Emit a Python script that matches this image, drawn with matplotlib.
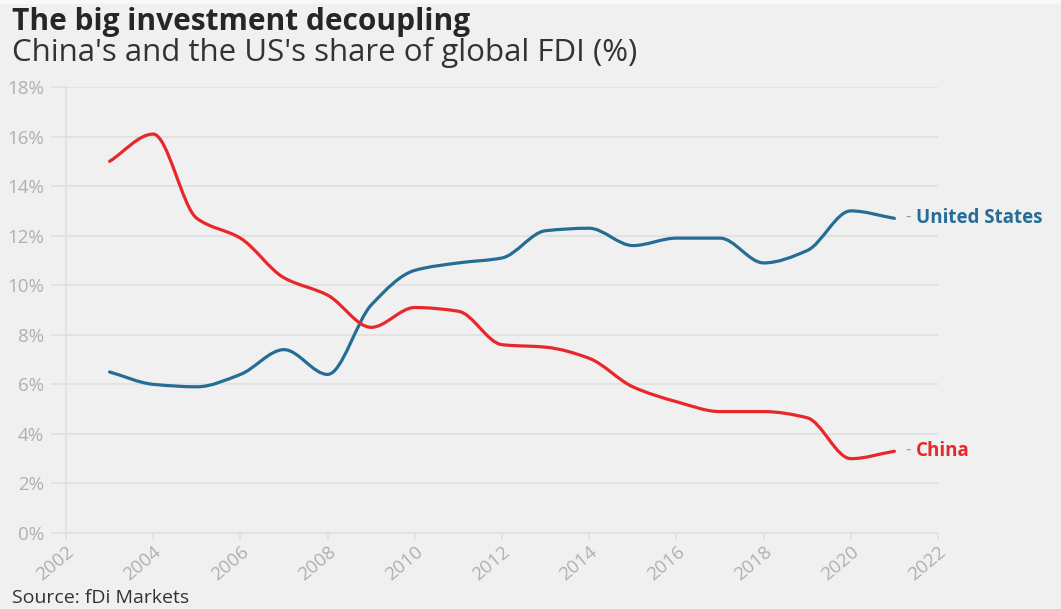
import numpy as np
import matplotlib
matplotlib.use("Agg")
import matplotlib.pyplot as plt
from matplotlib.path import Path
from matplotlib.patches import PathPatch, Rectangle
from matplotlib.ticker import FuncFormatter

years = [2003, 2004, 2005, 2006, 2007, 2008, 2009, 2010, 2011, 2012,
         2013, 2014, 2015, 2016, 2017, 2018, 2019, 2020, 2021]
us = [6.5, 6.0, 5.9, 6.4, 7.4, 6.4, 9.2, 10.6, 10.9, 11.1,
      12.2, 12.3, 11.6, 11.9, 11.9, 10.9, 11.4, 13.0, 12.7]
china = [15.0, 16.1, 12.7, 11.9, 10.3, 9.6, 8.3, 9.1, 8.95, 7.6,
         7.5, 7.05, 5.9, 5.3, 4.9, 4.9, 4.65, 3.0, 3.3]
series_names = ["United States", "China"]
colors = ["#256d95", "#e8272b"]
yticks = [0, 2, 4, 6, 8, 10, 12, 14, 16, 18]
xticks = [2002, 2004, 2006, 2008, 2010, 2012, 2014, 2016, 2018, 2020, 2022]

BG = "#f0f0f0"
plt.rcParams['font.family'] = ['Open Sans', 'DejaVu Sans']


def monotone_path(x, y):
    x = np.asarray(x, float)
    y = np.asarray(y, float)
    n = len(x)
    h = np.diff(x)
    d = np.diff(y) / h
    m = np.zeros(n)
    for i in range(1, n - 1):
        if d[i - 1] * d[i] <= 0:
            m[i] = 0
        else:
            w1 = 2 * h[i] + h[i - 1]
            w2 = h[i] + 2 * h[i - 1]
            m[i] = (w1 + w2) / (w1 / d[i - 1] + w2 / d[i])
    m[0] = d[0]
    m[-1] = d[-1]
    verts = [(x[0], y[0])]
    codes = [Path.MOVETO]
    for i in range(n - 1):
        dx = h[i] / 3.0
        verts += [(x[i] + dx, y[i] + m[i] * dx),
                  (x[i + 1] - dx, y[i + 1] - m[i + 1] * dx),
                  (x[i + 1], y[i + 1])]
        codes += [Path.CURVE4] * 3
    return Path(verts, codes)


fig = plt.figure(figsize=(10.61, 6.09), dpi=100, facecolor=BG)
fig.patches.append(Rectangle((0, 1 - 4 / 609), 1, 4 / 609, transform=fig.transFigure,
                             facecolor="#f8f8f8", edgecolor="none", zorder=0))
ax = fig.add_axes([66 / 1061, 1 - 533 / 609, (938 - 66) / 1061, (533 - 87) / 609])
ax.set_facecolor(BG)

for vals, col in zip([us, china], colors):
    p = monotone_path(years, vals)
    ax.add_patch(PathPatch(p, facecolor="none", edgecolor=col, lw=2.3,
                           capstyle="round", joinstyle="round", zorder=3))

ax.set_xlim(2002, 2022)
ax.set_ylim(0, 18)
ax.set_yticks(yticks)
ax.set_xticks(xticks)
ax.yaxis.set_major_formatter(FuncFormatter(lambda v, p: f"{int(v)}%"))
ax.grid(axis="y", color="#e0e0e0", lw=1.2)
for s in ["top", "right"]:
    ax.spines[s].set_visible(False)
for s in ["left", "bottom"]:
    ax.spines[s].set_color("#e0e0e0")
    ax.spines[s].set_linewidth(1.2)
ax.spines["bottom"].set_zorder(1)
ax.tick_params(axis="y", length=11, color="#e0e0e0", width=1.2, pad=5,
               labelcolor="#b0b0b0", labelsize=13.5)
ax.tick_params(axis="x", length=5, color="#e0e0e0", width=1.2, pad=2,
               labelcolor="#b0b0b0", labelsize=13.5)
for lab in ax.get_xticklabels():
    lab.set_rotation(40)
    lab.set_ha("right")
    lab.set_va("top")
    lab.set_rotation_mode("anchor")

for name, vals, col in zip(series_names, [us, china], colors):
    ax.annotate("-", xy=(years[-1], vals[-1]), xytext=(8, 0),
                textcoords="offset points", va="center", ha="left",
                color="#999999", fontsize=12, annotation_clip=False)
    ax.annotate(name, xy=(years[-1], vals[-1]), xytext=(15.5, 0),
                textcoords="offset points", va="center", ha="left",
                color=col, fontsize=13.5, fontweight="bold", annotation_clip=False)

fig.text(12 / 1061, 1 - 22 / 609, "The big investment decoupling", fontsize=21.5,
         fontweight="bold", color="#262626", va="center", ha="left")
fig.text(12 / 1061, 1 - 52 / 609, "China's and the US's share of global FDI (%)",
         fontsize=22.5, color="#333333", va="center", ha="left")
fig.text(12 / 1061, 1 - 598 / 609, "Source: fDi Markets", fontsize=14,
         color="#333333", va="center", ha="left")

fig.savefig("out.png", dpi=100, facecolor=BG)
